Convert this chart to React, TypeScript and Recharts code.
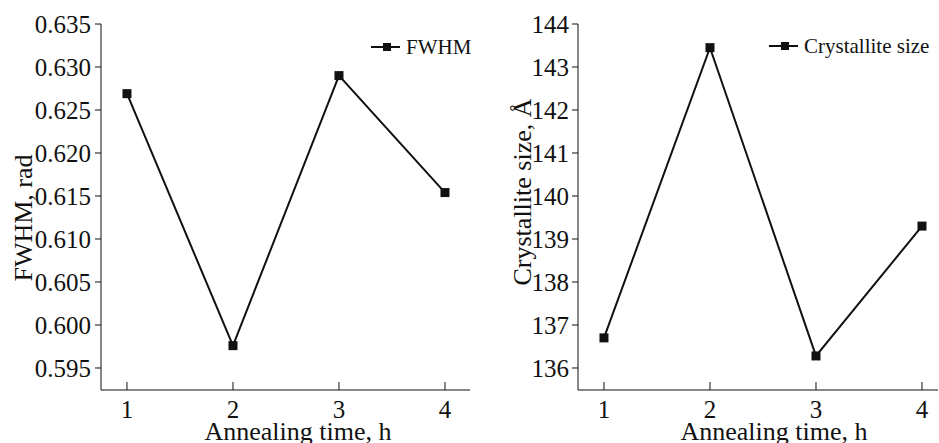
import React from "react";
import { LineChart, Line, XAxis, YAxis } from "recharts";

const hours = [1, 2, 3, 4];
const fwhm = [0.6269, 0.5976, 0.629, 0.6154];
const crystalliteSize = [136.7, 143.45, 136.28, 139.3];
const hourTicks = [1, 2, 3, 4];
const fwhmTicks = [0.595, 0.6, 0.605, 0.61, 0.615, 0.62, 0.625, 0.63, 0.635];
const sizeTicks = [136, 137, 138, 139, 140, 141, 142, 143, 144];

const FONT = '"Liberation Serif", "Times New Roman", serif';
const INK = "#111";

const fwhmRows = hours.map((h, i) => ({ h, v: fwhm[i] }));
const sizeRows = hours.map((h, i) => ({ h, v: crystalliteSize[i] }));

// serif tick labels (the plain tick object ignored fontFamily)
function XTick(props: any) {
  const { x, y, payload } = props;
  return (
    <text x={x} y={y} dy="0.71em" textAnchor="middle" fill={INK} style={{ fontFamily: FONT, fontSize: 25 }}>
      {payload.value}
    </text>
  );
}

function makeYTick(digits: number) {
  return (props: any) => {
    const { x, y, payload } = props;
    return (
      <text x={x} y={y} dy="0.35em" textAnchor="end" fill={INK} style={{ fontFamily: FONT, fontSize: 25 }}>
        {Number(payload.value).toFixed(digits)}
      </text>
    );
  };
}

function SquareDot(props: any) {
  const { cx, cy, index } = props;
  if (cx == null || cy == null) return null;
  return <rect key={`dot-${index}`} x={cx - 4.5} y={cy - 4.5} width={9} height={9} fill={INK} />;
}

function LegendItem({ left, top, name }: { left: number; top: number; name: string }) {
  return (
    <div
      style={{
        position: "absolute",
        left,
        top,
        display: "flex",
        alignItems: "center",
        fontFamily: FONT,
        fontSize: 21,
        color: INK,
        lineHeight: "24px",
        whiteSpace: "nowrap",
      }}
    >
      <svg width={35} height={12} style={{ display: "block" }}>
        <line x1={0} y1={6} x2={29} y2={6} stroke={INK} strokeWidth={2} />
        <rect x={12} y={2} width={8} height={8} fill={INK} />
      </svg>
      <span>{name}</span>
    </div>
  );
}

function axisTitle(x: number, y: number, text: string, rotate = false) {
  return {
    content: () => (
      <text
        x={x}
        y={y}
        textAnchor="middle"
        transform={rotate ? `rotate(-90, ${x}, ${y})` : undefined}
        style={{ fontSize: 26, fontFamily: FONT, fill: INK }}
      >
        {text}
      </text>
    ),
  };
}

export default function App() {
  return (
    <div
      style={{
        position: "absolute",
        left: 0,
        top: 0,
        width: 939,
        height: 443,
        background: "#fff",
        overflow: "hidden",
        fontFamily: FONT,
      }}
    >
      <div style={{ position: "absolute", left: 0, top: 0 }}>
        <LineChart width={470} height={443} data={fwhmRows} margin={{ top: 24, right: 0, bottom: 0, left: 0 }}>
          <XAxis
            dataKey="h"
            type="number"
            domain={[0.755, 4.236]}
            allowDataOverflow
            ticks={hourTicks}
            interval={0}
            height={53}
            tickSize={-8}
            tickMargin={18}
            tick={XTick}
            stroke={INK}
            label={axisTitle(298, 440, "Annealing time, h")}
          />
          <YAxis
            type="number"
            domain={[0.59244, 0.635]}
            allowDataOverflow
            ticks={fwhmTicks}
            interval={0}
            width={101}
            tickSize={6}
            tickMargin={4}
            tick={makeYTick(3)}
            stroke={INK}
            label={axisTitle(32, 218, "FWHM, rad", true)}
          />
          <Line
            dataKey="v"
            type="linear"
            stroke={INK}
            strokeWidth={2}
            dot={SquareDot}
            activeDot={false}
            isAnimationActive={false}
          />
        </LineChart>
      </div>
      <div style={{ position: "absolute", left: 470, top: 0 }}>
        <LineChart width={469} height={443} data={sizeRows} margin={{ top: 24, right: 1, bottom: 0, left: 0 }}>
          <XAxis
            dataKey="h"
            type="number"
            domain={[0.755, 4.151]}
            allowDataOverflow
            ticks={hourTicks}
            interval={0}
            height={53}
            tickSize={-8}
            tickMargin={18}
            tick={XTick}
            stroke={INK}
            label={axisTitle(304, 440, "Annealing time, h")}
          />
          <YAxis
            type="number"
            domain={[135.488, 144]}
            allowDataOverflow
            ticks={sizeTicks}
            interval={0}
            width={108}
            tickSize={6}
            tickMargin={3}
            tick={makeYTick(0)}
            stroke={INK}
            label={axisTitle(61, 192, "Crystallite size, Å", true)}
          />
          <Line
            dataKey="v"
            type="linear"
            stroke={INK}
            strokeWidth={2}
            dot={SquareDot}
            activeDot={false}
            isAnimationActive={false}
          />
        </LineChart>
      </div>
      <LegendItem left={371} top={35} name="FWHM" />
      <LegendItem left={769} top={34} name="Crystallite size" />
    </div>
  );
}
